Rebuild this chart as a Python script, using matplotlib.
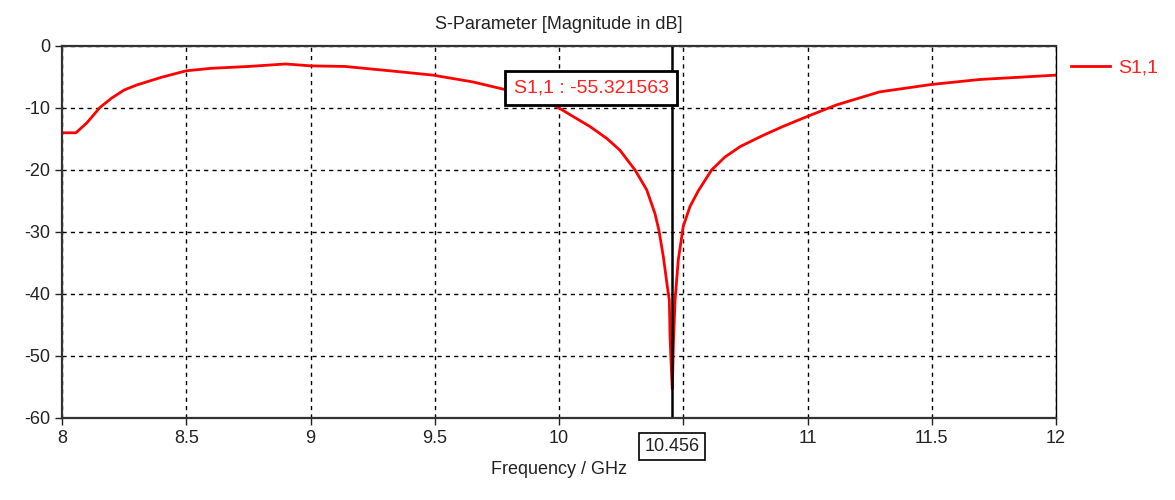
import matplotlib.pyplot as plt

freq_ghz = [8.0, 8.056, 8.1, 8.153, 8.2, 8.25, 8.3, 8.4, 8.5, 8.6, 8.75, 8.9, 9.0,
            9.139, 9.32, 9.493, 9.654, 9.843, 9.9, 9.95, 10.0, 10.058, 10.125, 10.192,
            10.245, 10.306, 10.353, 10.386, 10.402, 10.42, 10.436, 10.444, 10.447,
            10.453, 10.456, 10.46, 10.467, 10.48, 10.50, 10.527, 10.56, 10.614,
            10.668, 10.73, 10.822, 10.9, 10.997, 11.117, 11.29, 11.50, 11.694, 12.0]
s11_db = [-14.0, -14.0, -12.4, -9.9, -8.4, -7.1, -6.3, -5.05, -4.0, -3.6, -3.3, -2.9, -3.2,
          -3.3, -4.0, -4.7, -5.8, -7.6, -8.3, -9.0, -10.0, -11.4, -13.0, -14.9,
          -16.8, -20.0, -23.2, -27.0, -29.7, -34.0, -38.8, -41.0, -47.0,
          -53.0, -55.32, -48.5, -41.0, -34.5, -29.1, -25.9, -23.4, -20.0,
          -17.9, -16.2, -14.4, -13.0, -11.4, -9.5, -7.4, -6.2, -5.4, -4.7]
x_ticks = [8, 8.5, 9, 9.5, 10, 10.5, 11, 11.5, 12]
x_tick_labels = ["8", "8.5", "9", "9.5", "10", "", "11", "11.5", "12"]
y_ticks = [0, -10, -20, -30, -40, -50, -60]
marker_freq = 10.456
marker_value = -55.321563

plt.rcParams["font.family"] = ["Liberation Sans", "DejaVu Sans"]
plt.rcParams["font.size"] = 13
plt.rcParams["axes.unicode_minus"] = False

fig = plt.figure(figsize=(11.75, 5), dpi=100)
ax = fig.add_axes([62 / 1175, 82 / 500, 994 / 1175, 372 / 500])

ax.plot(freq_ghz, s11_db, color="#ff0000", lw=2.0, label="S1,1")
ax.axvline(marker_freq, color="black", lw=1.8)

ax.set_xlim(8, 12)
ax.set_ylim(-60, 0)
ax.set_xticks(x_ticks)
ax.set_xticklabels(x_tick_labels)
ax.set_yticks(y_ticks)
ax.grid(True, color="black", ls=(0, (3, 3)), lw=1.0)
ax.tick_params(direction="out", length=5, width=1, colors="#222222", labelsize=13)

for side in ["top", "left", "bottom"]:
    ax.spines[side].set_linewidth(1.6)
    ax.spines[side].set_color("#333333")
    ax.spines[side].set_zorder(3)
ax.spines["right"].set_linewidth(1.0)
ax.spines["right"].set_color("black")

ax.set_title("S-Parameter [Magnitude in dB]", fontsize=13, color="#222222", pad=12)
ax.set_xlabel("Frequency / GHz", fontsize=13, color="#222222", labelpad=10)

ax.text(10.129, -6.8, "S1,1 : %.6f" % marker_value, color="#ff2020", fontsize=14,
        ha="center", va="center", zorder=5,
        bbox=dict(boxstyle="square,pad=0.45", fc="white", ec="black", lw=2))
ax.text(marker_freq, -64.6, "%.3f" % marker_freq, color="#222222", fontsize=13,
        ha="center", va="center",
        bbox=dict(boxstyle="square,pad=0.3", fc="white", ec="black", lw=1.2))

leg = fig.legend(*ax.get_legend_handles_labels(), loc="center left",
                 bbox_to_anchor=(1071 / 1175, 1 - 68 / 500), frameon=False,
                 borderpad=0, borderaxespad=0, handlelength=2.0,
                 handletextpad=0.4, fontsize=14)
for t in leg.get_texts():
    t.set_color("#ff2020")

fig.savefig("out.png", dpi=100)
